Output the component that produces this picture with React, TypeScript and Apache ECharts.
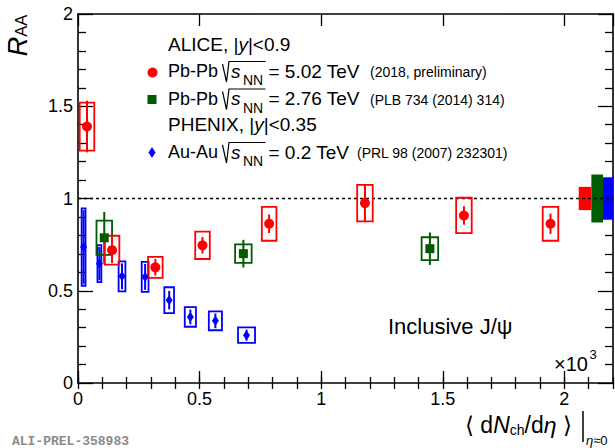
import React, { useEffect, useRef } from "react";
import * as echarts from "echarts";

// ---------------- data ----------------
// ALICE Pb-Pb 5.02 TeV (2018, preliminary)
const PBPB502_X = [37, 140, 318, 512, 786, 1180, 1587, 1943];
const PBPB502_Y = [1.39, 0.72, 0.627, 0.746, 0.863, 0.975, 0.908, 0.863];
const PBPB502_STAT = [0.14, 0.07, 0.045, 0.045, 0.05, 0.1, 0.05, 0.055];
const PBPB502_SYS = [0.13, 0.078, 0.057, 0.074, 0.092, 0.099, 0.096, 0.092];
const PBPB502_HW = [30, 30, 30, 30, 30, 32, 32, 32];

// ALICE Pb-Pb 2.76 TeV (PLB 734 (2014) 314)
const PBPB276_X = [108, 680, 1447];
const PBPB276_Y = [0.787, 0.701, 0.728];
const PBPB276_STAT = [0.14, 0.075, 0.088];
const PBPB276_SYS = [0.093, 0.05, 0.062];
const PBPB276_HW = [32, 34, 34];

// PHENIX Au-Au 0.2 TeV (PRL 98 (2007) 232301)
const AUAU_X = [23, 88, 181, 276, 375, 462, 565, 693];
const AUAU_Y = [0.737, 0.647, 0.578, 0.575, 0.449, 0.358, 0.337, 0.259];
const AUAU_STAT = [0.2, 0.09, 0.07, 0.07, 0.05, 0.04, 0.04, 0.03];
const AUAU_SYS = [0.21, 0.1, 0.081, 0.081, 0.07, 0.053, 0.051, 0.042];
const AUAU_HW = [8, 8, 14, 14, 20, 23, 27, 35];

// global (correlated) uncertainties around unity
const GLOBAL_X0 = [2059, 2111, 2159];
const GLOBAL_X1 = [2111, 2159, 2200];
const GLOBAL_LO = [0.937, 0.87, 0.885];
const GLOBAL_HI = [1.063, 1.13, 1.115];

const REF_Y = 1;
const X_MIN = 0;
const X_MAX = 2200;
const Y_MIN = 0;
const Y_MAX = 2;
const X_TICK_LABELS = ["0", "0.5", "1", "1.5", "2"];
const Y_TICK_LABELS = ["0", "0.5", "1", "1.5", "2"];

// ---------------- styles ----------------
const RED = "#ff0000";
const GREEN = "#005a00";
const BLUE = "#0000ff";
const GLOBAL_COLORS = [RED, GREEN, BLUE];
const FONT = "Liberation Sans";

function rows(x: number[], y: number[], st: number[], sy: number[], hw: number[]) {
  return x.map((v, i) => [v, y[i], st[i], sy[i], hw[i]]);
}

function boxSeries(name: string, data: number[][], color: string, z: number) {
  return {
    name,
    type: "custom",
    z,
    clip: true,
    encode: { x: 0, y: 1 },
    data,
    renderItem: (_p: any, api: any) => {
      const x = api.value(0);
      const y = api.value(1);
      const st = api.value(2);
      const sy = api.value(3);
      const w = api.value(4);
      const a = api.coord([x - w, y + sy]);
      const b = api.coord([x + w, y - sy]);
      const s1 = api.coord([x, y + st]);
      const s2 = api.coord([x, y - st]);
      return {
        type: "group",
        children: [
          {
            type: "rect",
            shape: { x: a[0], y: a[1], width: b[0] - a[0], height: b[1] - a[1] },
            style: { fill: "none", stroke: color, lineWidth: 1.8 },
          },
          {
            type: "line",
            shape: { x1: s1[0], y1: s1[1], x2: s2[0], y2: s2[1] },
            style: { stroke: color, lineWidth: 2 },
          },
        ],
      };
    },
  };
}

function markerSeries(name: string, x: number[], y: number[], color: string, symbol: string, size: any, z: number) {
  return {
    name,
    type: "scatter",
    z,
    symbol,
    symbolSize: size,
    itemStyle: { color, opacity: 1 },
    data: x.map((v, i) => [v, y[i]]),
  };
}

const axisLineStyle = { color: "#000", width: 1.6 };

export default function App() {
  const ref = useRef<HTMLDivElement>(null);
  useEffect(() => {
    document.body.style.margin = "0";
    const chart = echarts.init(ref.current!, null, { renderer: "svg" });

    const xMajor = (position: string, labels: boolean) => ({
      type: "value",
      position,
      min: X_MIN,
      max: X_MAX,
      interval: 500,
      axisLine: { show: true, onZero: false, lineStyle: axisLineStyle },
      axisTick: { show: true, inside: true, length: 12, lineStyle: { color: "#000", width: 1.3 } },
      minorTick: { show: false },
      splitLine: { show: false },
      axisLabel: labels
        ? {
            show: true,
            showMaxLabel: false,
            margin: 7,
            fontFamily: FONT,
            fontSize: 18,
            color: "#000",
            formatter: (v: number) => X_TICK_LABELS[Math.round(v / 500)] ?? "",
          }
        : { show: false },
    });
    const xMinor = (position: string) => ({
      type: "value",
      position,
      min: X_MIN,
      max: X_MAX,
      interval: 100,
      axisLine: { show: false },
      axisTick: { show: true, inside: true, length: 6, lineStyle: { color: "#000", width: 1.3 } },
      splitLine: { show: false },
      axisLabel: { show: false },
    });
    const yAx = (position: string, labels: boolean) => ({
      type: "value",
      position,
      min: Y_MIN,
      max: Y_MAX,
      interval: 0.5,
      axisLine: { show: true, onZero: false, lineStyle: axisLineStyle },
      axisTick: { show: true, inside: true, length: 15, lineStyle: { color: "#000", width: 1.3 } },
      minorTick: { show: true, splitNumber: 5, length: 8, lineStyle: { color: "#000", width: 1.3 } },
      splitLine: { show: false },
      axisLabel: labels
        ? {
            show: true,
            margin: 5,
            fontFamily: FONT,
            fontSize: 18,
            color: "#000",
            padding: [4, 0, 0, 0],
            formatter: (v: number) => Y_TICK_LABELS[Math.round(v / 0.5)] ?? "",
          }
        : { show: false },
    });

    const sqrt = (c: number) => ({
      type: "polyline",
      shape: { points: [[222.5, c - 6], [226.5, c + 12], [229, c - 8.5], [265.5, c - 8.5]] },
      style: { stroke: "#000", lineWidth: 1.2, fill: "none" },
    });
    const t = (x: number, y: number, text: string, size = 19, extra: any = {}) => ({
      type: "text",
      x,
      y,
      style: {
        text,
        fontFamily: FONT,
        fontSize: size,
        fill: "#000",
        verticalAlign: "middle",
        align: "left",
        ...extra,
      },
    });
    const legendRow = (c: number, sys: string, energy: string, ref2: string, refX: number) => [
      t(168, c + 1, sys, 18),
      sqrt(c),
      t(231, c + 1, "s", 19, { fontStyle: "italic" }),
      t(243, c + 10, "NN", 14),
      t(268.5, c + 1, energy),
      t(refX, c + 2, ref2, 14),
    ];

    chart.setOption({
      animation: false,
      grid: { left: 78, right: 2, top: 14, bottom: 65, containLabel: false },
      xAxis: [xMajor("bottom", true), xMinor("bottom"), xMajor("top", false), xMinor("top")],
      yAxis: [yAx("left", true), yAx("right", false)],
      series: [
        {
          name: "global",
          type: "custom",
          z: 2,
          clip: true,
          encode: { x: [0, 1], y: [2, 3] },
          data: GLOBAL_X0.map((v, i) => [v, GLOBAL_X1[i], GLOBAL_LO[i], GLOBAL_HI[i], i]),
          renderItem: (_p: any, api: any) => {
            const a = api.coord([api.value(0), api.value(3)]);
            const b = api.coord([api.value(1), api.value(2)]);
            return {
              type: "rect",
              shape: { x: a[0], y: a[1], width: b[0] - a[0], height: b[1] - a[1] },
              style: { fill: GLOBAL_COLORS[api.value(4)] },
            };
          },
        },
        {
          name: "unity",
          type: "line",
          z: 3,
          symbol: "none",
          silent: true,
          lineStyle: { color: "#000", width: 1.5, type: [3, 3] },
          data: [
            [X_MIN, REF_Y],
            [X_MAX, REF_Y],
          ],
        },
        boxSeries("Au-Au box", rows(AUAU_X, AUAU_Y, AUAU_STAT, AUAU_SYS, AUAU_HW), BLUE, 4),
        boxSeries("Pb-Pb 2.76 box", rows(PBPB276_X, PBPB276_Y, PBPB276_STAT, PBPB276_SYS, PBPB276_HW), GREEN, 5),
        boxSeries("Pb-Pb 5.02 box", rows(PBPB502_X, PBPB502_Y, PBPB502_STAT, PBPB502_SYS, PBPB502_HW), RED, 6),
        markerSeries("Au-Au", AUAU_X, AUAU_Y, BLUE, "diamond", [7, 10], 7),
        markerSeries("Pb-Pb 2.76", PBPB276_X, PBPB276_Y, GREEN, "rect", 9, 8),
        markerSeries("Pb-Pb 5.02", PBPB502_X, PBPB502_Y, RED, "circle", 10, 9),
      ],
      graphic: [
        // y-axis title R_AA
        {
          type: "text",
          x: 18,
          y: 35.5,
          rotation: Math.PI / 2,
          style: {
            text: "{r|R}{s|AA}",
            align: "center",
            verticalAlign: "middle",
            rich: {
              r: { fontFamily: FONT, fontSize: 27, fontStyle: "italic", lineHeight: 22, fill: "#000", verticalAlign: "middle" },
              s: { fontFamily: FONT, fontSize: 16.5, lineHeight: 17, fill: "#000", verticalAlign: "bottom" },
            },
          },
        },
        // x-axis title
        {
          type: "text",
          x: 465,
          y: 424.5,
          style: {
            text: "{n|\u27e8 d}{i|N}{s|ch}{n|/d}{i|\u03b7}{n| \u27e9}",
            align: "left",
            verticalAlign: "middle",
            rich: {
              n: { fontFamily: FONT + ", DejaVu Sans", fontSize: 23, lineHeight: 25, fill: "#000", verticalAlign: "middle" },
              i: { fontFamily: FONT, fontSize: 23, fontStyle: "italic", lineHeight: 25, fill: "#000", verticalAlign: "middle" },
              s: { fontFamily: FONT, fontSize: 14, lineHeight: 13, fill: "#000", verticalAlign: "bottom" },
            },
          },
        },
        {
          type: "line",
          shape: { x1: 583, y1: 411, x2: 583, y2: 442 },
          style: { stroke: "#000", lineWidth: 1.5 },
        },
        t(586, 440, "{i|\u03b7}\u22480", 13, {
          rich: { i: { fontFamily: FONT, fontSize: 13, fontStyle: "italic", fill: "#000" } },
        }),
        // legend
        t(168, 44.5, "ALICE, |{i|y}|<0.9", 19, {
          rich: { i: { fontFamily: FONT, fontSize: 19, fontStyle: "italic", fill: "#000" } },
        }),
        { type: "circle", shape: { cx: 152.5, cy: 72.5, r: 5 }, style: { fill: RED } },
        ...legendRow(70, "Pb-Pb", "= 5.02 TeV", "(2018, preliminary)", 370),
        { type: "rect", shape: { x: 147.5, y: 95, width: 9, height: 9 }, style: { fill: GREEN } },
        ...legendRow(97.5, "Pb-Pb", "= 2.76 TeV", "(PLB 734 (2014) 314)", 370),
        t(168, 124.5, "PHENIX, |{i|y}|<0.35", 19, {
          rich: { i: { fontFamily: FONT, fontSize: 19, fontStyle: "italic", fill: "#000" } },
        }),
        {
          type: "polygon",
          shape: { points: [[152, 147], [155.5, 152.5], [152, 158], [148.5, 152.5]] },
          style: { fill: BLUE },
        },
        ...legendRow(151, "Au-Au", "= 0.2 TeV", "(PRL 98 (2007) 232301)", 357),
        // annotations
        t(388, 326.5, "Inclusive J/\u03c8", 22),
        t(554, 363.5, "\u00d710", 20),
        t(589.5, 354, "3", 13),
        t(12, 441, "ALI-PREL-358983", 13, { fontFamily: "Liberation Mono", fontWeight: "bold", fill: "#8a8a8a" }),
      ],
    });
    return () => chart.dispose();
  }, []);
  return (
    <div
      ref={ref}
      style={{ position: "absolute", left: 0, top: 0, width: 615, height: 448, background: "#fff" }}
    />
  );
}
